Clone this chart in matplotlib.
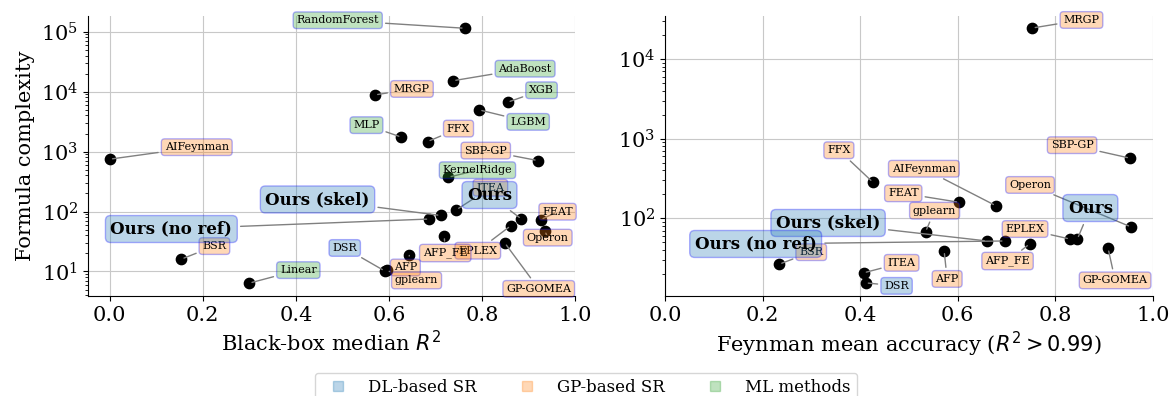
import matplotlib
matplotlib.use('Agg')
import matplotlib.pyplot as plt
from matplotlib.lines import Line2D

plt.rcParams['font.family'] = 'serif'

# black-box benchmark
bb_methods = ['AIFeynman', 'RandomForest', 'AdaBoost', 'MRGP', 'XGB', 'LGBM', 'MLP', 'FFX',
              'SBP-GP', 'KernelRidge', 'FEAT', 'Operon', 'EPLEX', 'GP-GOMEA', 'AFP_FE', 'AFP',
              'gplearn', 'DSR', 'Linear', 'BSR', 'ITEA', 'Ours (no ref)', 'Ours (skel)', 'Ours']
bb_r2 = [0.0, 0.763, 0.738, 0.570, 0.855, 0.794, 0.627, 0.683,
         0.920, 0.728, 0.926, 0.935, 0.862, 0.849, 0.719, 0.644,
         0.595, 0.591, 0.300, 0.154, 0.745, 0.687, 0.711, 0.885]
bb_complexity = [747, 114000, 15200, 8800, 6650, 4960, 1740, 1468,
                 708, 374, 73, 48, 58, 30, 39, 18.5,
                 10.4, 10.2, 6.4, 16.1, 107, 75, 86, 75]

# feynman benchmark
fey_methods = ['MRGP', 'SBP-GP', 'AIFeynman', 'FFX', 'FEAT', 'gplearn', 'AFP_FE', 'AFP',
               'EPLEX', 'Operon', 'GP-GOMEA', 'ITEA', 'DSR', 'BSR',
               'Ours (skel)', 'Ours (no ref)', 'Ours']
fey_acc = [0.753, 0.953, 0.678, 0.426, 0.603, 0.534, 0.747, 0.572,
           0.830, 0.955, 0.908, 0.407, 0.411, 0.234,
           0.660, 0.696, 0.845]
fey_complexity = [24500, 569, 144, 284, 159, 68, 47.6, 39,
                  55, 78, 42, 20.7, 15.5, 26.6,
                  52, 52, 55]

dl = ['DSR', 'Ours', 'Ours (skel)', 'Ours (no ref)']
ml = ['RandomForest', 'AdaBoost', 'XGB', 'LGBM', 'MLP', 'KernelRidge', 'Linear']
group_colors = {'DL-based SR': 'C0', 'GP-based SR': 'C1', 'ML methods': 'C2'}

# label offsets in pixels (dx, dy)
bb_offsets = {'AIFeynman': (87, 12), 'RandomForest': (-127, 8), 'AdaBoost': (72, 12),
              'MRGP': (37, 6), 'XGB': (34, 12), 'LGBM': (49, -12), 'MLP': (-35, 12),
              'FFX': (31, 13), 'SBP-GP': (-52, 10), 'KernelRidge': (29, 7), 'ITEA': (34, 22),
              'Ours (no ref)': (-258, -10), 'Ours (skel)': (-123, 16), 'Ours': (-32, 24),
              'FEAT': (17, 8), 'Operon': (3, -7), 'EPLEX': (-33, -25), 'GP-GOMEA': (34, -46),
              'AFP_FE': (1, -17), 'AFP': (-4, -12), 'gplearn': (30, -10), 'DSR': (-40, 23),
              'Linear': (49, 13), 'BSR': (33, 13)}
fey_offsets = {'MRGP': (49, 8), 'SBP-GP': (-58, 13), 'AIFeynman': (-72, 37), 'FFX': (-34, 32),
               'FEAT': (-56, 9), 'gplearn': (9, 21), 'Ours (skel)': (-159, 18),
               'Ours (no ref)': (-249, -3), 'AFP_FE': (-22, -17), 'AFP': (3, -28),
               'EPLEX': (-45, 10), 'Ours': (13, 31), 'Operon': (-101, 42), 'GP-GOMEA': (7, -32),
               'ITEA': (38, 10), 'DSR': (31, -3), 'BSR': (32, 12)}


def color_of(name):
    if name in dl:
        return group_colors['DL-based SR']
    if name in ml:
        return group_colors['ML methods']
    return group_colors['GP-based SR']


def draw(ax, names, xs, ys, offsets):
    ax.scatter(xs, ys, color='black', s=55, zorder=2)
    for name, x, y in zip(names, xs, ys):
        ours = name.startswith('Ours')
        ax.annotate(name, (x, y), xytext=offsets[name], textcoords='offset pixels',
                    ha='center', va='center',
                    fontsize=12 if ours else 8, fontweight='bold' if ours else 'normal',
                    bbox=dict(boxstyle='round', fc=color_of(name), ec='blue', alpha=0.3),
                    arrowprops=dict(arrowstyle='-', color='grey', lw=1))
    ax.set_yscale('log')
    ax.grid(True, which='major', color='#c8c8c8')
    ax.set_axisbelow(True)
    ax.spines['top'].set_visible(False)
    ax.spines['right'].set_visible(False)
    ax.tick_params(labelsize=15)


fig = plt.figure(figsize=(11.72, 3.96), dpi=100)
ax1 = fig.add_axes([0.075, 0.2525, 0.4156, 0.708])
ax2 = fig.add_axes([0.5674, 0.2525, 0.4164, 0.708])

draw(ax1, bb_methods, bb_r2, bb_complexity, bb_offsets)
ax1.set_xlim(-0.047, 1.0)
ax1.set_ylim(3.9, 1.85e5)
ax1.set_xlabel('Black-box median $R^2$', fontsize=15)
ax1.set_ylabel('Formula complexity', fontsize=15)

draw(ax2, fey_methods, fey_acc, fey_complexity, fey_offsets)
ax2.set_xlim(0, 1.0)
ax2.set_ylim(10.6, 3.5e4)
ax2.set_xlabel('Feynman mean accuracy ($R^2 > 0.99$)', fontsize=15)

handles = [Line2D([], [], marker='s', linestyle='None', color=c, alpha=0.3, markersize=7)
           for c in group_colors.values()]
fig.legend(handles, list(group_colors.keys()), loc='upper center', ncol=3,
           bbox_to_anchor=(0.5, 0.08), fontsize=12)

fig.savefig('out.png', dpi=100)
